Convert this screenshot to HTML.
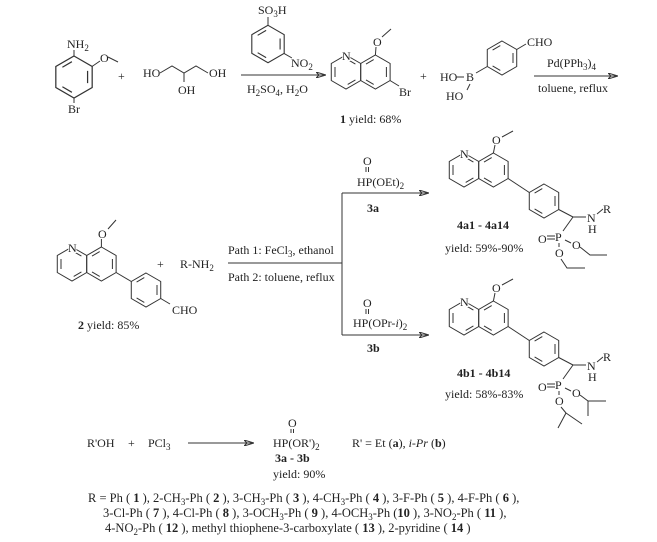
<!DOCTYPE html>
<html><head><meta charset="utf-8"><style>
html,body{margin:0;padding:0;background:#fff;}
svg{display:block;}
text{font-family:"Liberation Serif","Times New Roman",Times,serif;font-size:12px;fill:#222;paint-order:stroke;stroke:#fff;stroke-width:2px;}
.b{font-weight:bold;}
.r{font-size:12.5px;}
line,polyline,path{stroke:#333;stroke-width:1;fill:none;}
</style></head><body>
<svg width="657" height="542" viewBox="0 0 657 542" xmlns="http://www.w3.org/2000/svg" font-family="Liberation Serif, Times New Roman, serif">
<defs>
<g id="hexA">
<polygon points="0,-17 14.72,-8.5 14.72,8.5 0,17 -14.72,8.5 -14.72,-8.5" fill="none" stroke="#333" stroke-width="1"/>
<path d="M-11,-5 L-11,5 M1.7,-12.4 L9.4,-7.9 M9.4,7.9 L1.7,12.4" stroke="#333" stroke-width="1" fill="none"/>
</g>
<g id="hexP">
<polygon points="0,-17 14.72,-8.5 14.72,8.5 0,17 -14.72,8.5 -14.72,-8.5" fill="none" stroke="#333" stroke-width="1"/>
<path d="M11,-5 L11,5 M-1.7,12.4 L-9.4,7.9 M-9.4,-7.9 L-1.7,-12.4" stroke="#333" stroke-width="1" fill="none"/>
</g>
<marker id="ah" markerWidth="10" markerHeight="6" refX="9" refY="3" orient="auto" markerUnits="userSpaceOnUse"><path d="M0,0 L10,3 L0,6 L3,3 Z" fill="#333" stroke="none"/></marker>
</defs>

<!-- aniline -->
<g transform="translate(74,77) scale(1.235)"><use href="#hexP"/></g>
<line x1="74" y1="56" x2="74" y2="50"/>
<text x="67" y="48">NH<tspan dy="3" font-size="9">2</tspan></text>
<line x1="92" y1="66.5" x2="100" y2="61"/>
<text x="100" y="62">O</text>
<line x1="108" y1="57" x2="118" y2="62"/>
<line x1="74" y1="98" x2="74" y2="103"/>
<text x="68" y="113">Br</text>
<text x="118" y="80">+</text>
<!-- glycerol -->
<text x="143" y="77">HO</text>
<polyline points="160,73 172,66 184,73 196,66 208,73"/>
<text x="209" y="77">OH</text>
<line x1="184" y1="73" x2="184" y2="82"/>
<text x="178" y="94">OH</text>
<!-- nitrobenzenesulfonic acid -->
<g transform="translate(268,44) scale(1.1)"><use href="#hexP"/></g>
<line x1="268" y1="25" x2="268" y2="17"/>
<text x="258" y="14">SO<tspan dy="3" font-size="9">3</tspan><tspan dy="-3">H</tspan></text>
<line x1="284" y1="53.4" x2="292" y2="58"/>
<text x="291" y="67">NO<tspan dy="3" font-size="9">2</tspan></text>
<line x1="241" y1="75" x2="325" y2="75" marker-end="url(#ah)"/>
<text x="247" y="93">H<tspan dy="3" font-size="9">2</tspan><tspan dy="-3">SO</tspan><tspan dy="3" font-size="9">4</tspan><tspan dy="-3">, H</tspan><tspan dy="3" font-size="9">2</tspan><tspan dy="-3">O</tspan></text>

<!-- compound 1 -->
<use href="#hexA" x="346" y="72"/>
<use href="#hexP" x="375.4" y="72"/>
<text x="342" y="60">N</text>
<line x1="375.4" y1="55" x2="376" y2="47"/>
<text x="373" y="46">O</text>
<line x1="382" y1="37" x2="391" y2="29"/>
<line x1="390" y1="80.5" x2="399" y2="86"/>
<text x="399" y="96">Br</text>
<text x="420" y="80">+</text>
<text x="340" y="123"><tspan class="b">1</tspan> yield: 68%</text>
<!-- boronic acid -->
<use href="#hexP" x="502" y="58"/>
<line x1="487.3" y1="66.5" x2="476" y2="73"/>
<text x="440" y="81">HO</text>
<line x1="456" y1="77" x2="464" y2="77"/>
<text x="466" y="81">B</text>
<line x1="470" y1="84" x2="467" y2="90"/>
<text x="446" y="100">HO</text>
<line x1="516.7" y1="49.5" x2="526" y2="44"/>
<text x="527" y="46">CHO</text>
<line x1="534" y1="76" x2="617" y2="76" marker-end="url(#ah)"/>
<text x="547" y="67">Pd(PPh<tspan dy="3" font-size="9">3</tspan><tspan dy="-3">)</tspan><tspan dy="3" font-size="9">4</tspan></text>
<text x="538" y="92">toluene, reflux</text>

<!-- compound 2 -->
<use href="#hexA" x="72" y="264"/>
<use href="#hexP" x="101.4" y="264"/>
<text x="68" y="252">N</text>
<line x1="101.4" y1="247" x2="101.4" y2="239"/>
<text x="98" y="238">O</text>
<line x1="108" y1="229" x2="116" y2="220"/>
<line x1="116.1" y1="272.5" x2="131.3" y2="281.5"/>
<use href="#hexP" x="146" y="290"/>
<line x1="160.7" y1="298.5" x2="170" y2="304"/>
<text x="172" y="314">CHO</text>
<text x="157" y="268">+</text>
<text x="180" y="268">R-NH<tspan dy="3" font-size="9">2</tspan></text>
<text x="78" y="329"><tspan class="b">2</tspan> yield: 85%</text>
<line x1="228" y1="263" x2="342" y2="263"/>
<text x="228" y="254">Path 1: FeCl<tspan dy="3" font-size="9">3</tspan><tspan dy="-3">, ethanol</tspan></text>
<text x="228" y="281">Path 2: toluene, reflux</text>
<line x1="342" y1="193" x2="342" y2="335"/>
<line x1="342" y1="193" x2="428" y2="193" marker-end="url(#ah)"/>
<line x1="342" y1="335" x2="428" y2="335" marker-end="url(#ah)"/>
<text x="363" y="165">O</text>
<line x1="366" y1="167" x2="366" y2="172"/><line x1="368.5" y1="167" x2="368.5" y2="172"/>
<text x="357" y="186">HP(OEt)<tspan dy="3" font-size="9">2</tspan></text>
<text x="367" y="212" class="b">3a</text>
<text x="363" y="307">O</text>
<line x1="366" y1="309" x2="366" y2="314"/><line x1="368.5" y1="309" x2="368.5" y2="314"/>
<text x="353" y="327">HP(OPr-<tspan font-style="italic">i</tspan>)<tspan dy="3" font-size="9">2</tspan></text>
<text x="367" y="352" class="b">3b</text>

<!-- 4a -->
<use href="#hexA" x="464" y="170"/>
<use href="#hexP" x="493.4" y="170"/>
<text x="460" y="158">N</text>
<line x1="493.4" y1="153" x2="495" y2="145"/>
<text x="492" y="144">O</text>
<line x1="502" y1="137" x2="513" y2="131"/>
<line x1="508.1" y1="178.5" x2="529.3" y2="192.5"/>
<use href="#hexP" x="544" y="201"/>
<line x1="558.7" y1="209.5" x2="573" y2="217"/>
<line x1="573" y1="217" x2="586" y2="217"/>
<text x="587" y="222">N</text>
<line x1="597" y1="214" x2="603" y2="209"/>
<text x="603" y="213">R</text>
<text x="588" y="233">H</text>
<line x1="573" y1="217" x2="563" y2="231"/>
<text x="555" y="241">P</text>
<line x1="547" y1="236" x2="555" y2="236"/><line x1="547" y1="239" x2="555" y2="239"/>
<text x="538" y="243">O</text>
<line x1="565" y1="240" x2="571" y2="243"/>
<text x="572" y="249">O</text>
<polyline points="580,247 590,255 607,255"/>
<line x1="559" y1="243" x2="559" y2="247"/>
<text x="555" y="257">O</text>
<polyline points="561,259 567,268 585,268"/>
<text x="457" y="229" class="b">4a1 - 4a14</text>
<text x="445" y="252">yield: 59%-90%</text>

<!-- 4b -->
<use href="#hexA" x="464" y="318"/>
<use href="#hexP" x="493.4" y="318"/>
<text x="460" y="306">N</text>
<line x1="493.4" y1="301" x2="495" y2="293"/>
<text x="492" y="292">O</text>
<line x1="502" y1="285" x2="513" y2="279"/>
<line x1="508.1" y1="326.5" x2="529.3" y2="340.5"/>
<use href="#hexP" x="544" y="349"/>
<line x1="558.7" y1="357.5" x2="573" y2="365"/>
<line x1="573" y1="365" x2="586" y2="365"/>
<text x="587" y="370">N</text>
<line x1="597" y1="362" x2="603" y2="357"/>
<text x="603" y="361">R</text>
<text x="588" y="381">H</text>
<line x1="573" y1="365" x2="563" y2="379"/>
<text x="555" y="389">P</text>
<line x1="547" y1="384" x2="555" y2="384"/><line x1="547" y1="387" x2="555" y2="387"/>
<text x="538" y="391">O</text>
<line x1="565" y1="388" x2="571" y2="391"/>
<text x="572" y="397">O</text>
<polyline points="580,395 588,401 606,401"/>
<line x1="588" y1="401" x2="588" y2="416"/>
<line x1="559" y1="391" x2="559" y2="395"/>
<text x="555" y="405">O</text>
<line x1="561" y1="407" x2="566" y2="413"/>
<line x1="566" y1="413" x2="558" y2="428"/>
<line x1="566" y1="413" x2="582" y2="424"/>
<text x="457" y="377" class="b">4b1 - 4b14</text>
<text x="445" y="398">yield: 58%-83%</text>

<!-- bottom -->
<text x="87" y="447">R'OH</text>
<text x="128" y="447">+</text>
<text x="148" y="447">PCl<tspan dy="3" font-size="9">3</tspan></text>
<line x1="188" y1="443" x2="253" y2="443" marker-end="url(#ah)"/>
<text x="288" y="427">O</text>
<line x1="291" y1="429" x2="291" y2="433"/><line x1="293.5" y1="429" x2="293.5" y2="433"/>
<text x="273" y="447">HP(OR')<tspan dy="3" font-size="9">2</tspan></text>
<text x="352" y="447">R' = Et (<tspan class="b">a</tspan>), <tspan font-style="italic">i-Pr</tspan> (<tspan class="b">b</tspan>)</text>
<text x="275" y="462" class="b">3a - 3b</text>
<text x="273" y="478">yield: 90%</text>
<text class="r" x="88" y="502">R = Ph ( <tspan class="b">1</tspan> ), 2-CH<tspan dy="3" font-size="9">3</tspan><tspan dy="-3">-Ph ( </tspan><tspan class="b">2</tspan> ), 3-CH<tspan dy="3" font-size="9">3</tspan><tspan dy="-3">-Ph ( </tspan><tspan class="b">3</tspan> ), 4-CH<tspan dy="3" font-size="9">3</tspan><tspan dy="-3">-Ph ( </tspan><tspan class="b">4</tspan> ), 3-F-Ph ( <tspan class="b">5</tspan> ), 4-F-Ph ( <tspan class="b">6</tspan> ),</text>
<text class="r" x="103" y="517">3-Cl-Ph ( <tspan class="b">7</tspan> ), 4-Cl-Ph ( <tspan class="b">8</tspan> ), 3-OCH<tspan dy="3" font-size="9">3</tspan><tspan dy="-3">-Ph ( </tspan><tspan class="b">9</tspan> ), 4-OCH<tspan dy="3" font-size="9">3</tspan><tspan dy="-3">-Ph (</tspan><tspan class="b">10</tspan> ), 3-NO<tspan dy="3" font-size="9">2</tspan><tspan dy="-3">-Ph ( </tspan><tspan class="b">11</tspan> ),</text>
<text class="r" x="105" y="532">4-NO<tspan dy="3" font-size="9">2</tspan><tspan dy="-3">-Ph ( </tspan><tspan class="b">12</tspan> ), methyl thiophene-3-carboxylate ( <tspan class="b">13</tspan> ), 2-pyridine ( <tspan class="b">14</tspan> )</text>
</svg>
</body></html>
